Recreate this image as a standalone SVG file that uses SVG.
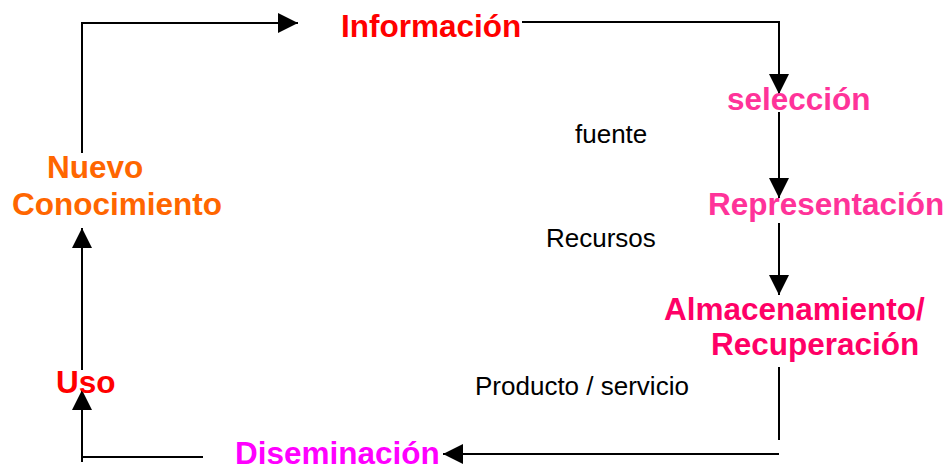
<svg xmlns="http://www.w3.org/2000/svg" width="950" height="468" viewBox="0 0 950 468">
<style>
.b{font-family:"Liberation Sans",Arial,sans-serif;font-weight:bold;font-size:31.5px}
.n{font-family:"Liberation Sans",Arial,sans-serif;font-size:26px;fill:#000}
.c{fill:none;stroke:#000;stroke-width:2}
</style>
<defs>
<marker id="ah" markerUnits="userSpaceOnUse" viewBox="0 0 20 20" refX="20" refY="10" markerWidth="20" markerHeight="20" orient="auto">
<path d="M0,0 L20,10 L0,20 z" fill="#000"/>
</marker>
</defs>
<rect width="950" height="468" fill="#fff"/>
<g id="connectors">
<path class="c" d="M82,153 V23 H298" marker-end="url(#ah)"/>
<path class="c" d="M522,22 H779 V94" marker-end="url(#ah)"/>
<path class="c" d="M779,112 V198" marker-end="url(#ah)"/>
<path class="c" d="M779,223 V295" marker-end="url(#ah)"/>
<path class="c" d="M779,367 V440"/>
<path class="c" d="M779,454 H443" marker-end="url(#ah)"/>
<path class="c" d="M82,457 H203"/>
<path class="c" d="M82,462 V390" marker-end="url(#ah)"/>
<path class="c" d="M82,370 V228" marker-end="url(#ah)"/>
</g>
<g id="informacion"><text class="b" x="341" y="37" fill="#FF0000">Información</text></g>
<g id="seleccion"><text class="b" x="727" y="110" fill="#FF3399">selección</text></g>
<g id="representacion"><text class="b" x="708" y="215" fill="#FF3399">Representación</text></g>
<g id="almacenamiento"><text class="b" fill="#FF0066"><tspan x="664" y="320">Almacenamiento/</tspan><tspan x="711" y="355">Recuperación</tspan></text></g>
<g id="diseminacion"><text class="b" x="235" y="464" fill="#FF00FF">Diseminación</text></g>
<g id="uso"><text class="b" x="56" y="393" fill="#FF0000">Uso</text></g>
<g id="nuevo"><text class="b" fill="#FF6600"><tspan x="47" y="178">Nuevo</tspan><tspan x="12" y="215">Conocimiento</tspan></text></g>
<g id="fuente"><text class="n" x="575" y="143">fuente</text></g>
<g id="recursos"><text class="n" x="546" y="247">Recursos</text></g>
<g id="producto"><text class="n" x="475" y="395">Producto / servicio</text></g>
</svg>
